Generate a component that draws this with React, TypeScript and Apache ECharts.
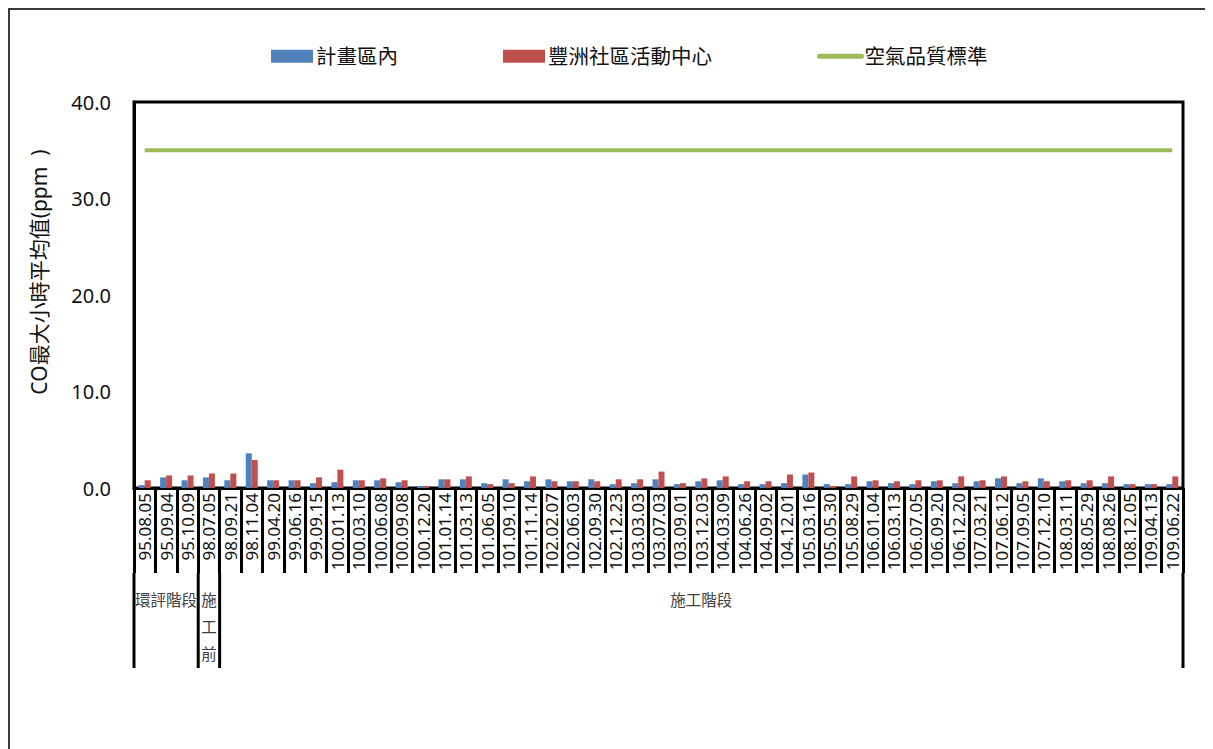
import React, { useEffect, useRef } from 'react';
import * as echarts from 'echarts';

const categories = [
  '95.08.05', '95.09.04', '95.10.09', '98.07.05', '98.09.21', '98.11.04', '99.04.20', '99.06.16', '99.09.15',
  '100.01.13', '100.03.10', '100.06.08', '100.09.08', '100.12.20',
  '101.01.14', '101.03.13', '101.06.05', '101.09.10', '101.11.14',
  '102.02.07', '102.06.03', '102.09.30', '102.12.23',
  '103.03.03', '103.07.03', '103.09.01', '103.12.03',
  '104.03.09', '104.06.26', '104.09.02', '104.12.01',
  '105.03.16', '105.05.30', '105.08.29',
  '106.01.04', '106.03.13', '106.07.05', '106.09.20', '106.12.20',
  '107.03.21', '107.06.12', '107.09.05', '107.12.10',
  '108.03.11', '108.05.29', '108.08.26', '108.12.05',
  '109.04.13', '109.06.22',
];

const planArea = [
  0.3, 1.1, 0.8, 1.1, 0.8, 3.6, 0.8, 0.8, 0.5,
  0.6, 0.8, 0.8, 0.6, 0.2,
  0.9, 0.9, 0.5, 0.9, 0.7,
  0.9, 0.7, 0.9, 0.4,
  0.5, 0.9, 0.4, 0.7,
  0.8, 0.4, 0.4, 0.5,
  1.4, 0.4, 0.4,
  0.7, 0.5, 0.4, 0.7, 0.5,
  0.7, 1.0, 0.5, 1.0,
  0.7, 0.5, 0.5, 0.4,
  0.4, 0.4,
];

const community = [
  0.8, 1.3, 1.3, 1.5, 1.5, 2.9, 0.8, 0.8, 1.1,
  1.9, 0.8, 1.0, 0.8, 0.2,
  0.9, 1.2, 0.4, 0.5, 1.2,
  0.7, 0.7, 0.7, 0.9,
  0.9, 1.7, 0.5, 1.0,
  1.2, 0.7, 0.7, 1.4,
  1.6, 0.2, 1.2,
  0.8, 0.7, 0.8, 0.8, 1.2,
  0.8, 1.2, 0.7, 0.7,
  0.8, 0.8, 1.2, 0.4,
  0.4, 1.2,
];

const standardValue = 35;

const seriesNames = ['計畫區內', '豐洲社區活動中心', '空氣品質標準'];
const groupNames = ['環評階段', '施工前', '施工階段'];
const groupCounts = [3, 1, 45];

const yMin = 0;
const yMax = 40;
const yInterval = 10;

const FONT = "'Noto Sans', 'Noto Sans CJK TC', sans-serif";

export default function App() {
  const ref = useRef<HTMLDivElement>(null);

  useEffect(() => {
    document.documentElement.style.overflow = 'hidden';
    if (!ref.current) return;
    const chart = echarts.init(ref.current, null, { renderer: 'svg' });
    const option: any = {
      animation: false,
      textStyle: { fontFamily: FONT },
      legend: {
        left: 256,
        top: 31,
        itemWidth: 42,
        itemHeight: 13,
        itemGap: 105,
        textStyle: { fontSize: 20.5, color: '#111', fontFamily: FONT, padding: [0, 0, 0, -2] },
        data: [
          { name: seriesNames[0], icon: 'rect' },
          { name: seriesNames[1], icon: 'rect' },
          {
            name: seriesNames[2],
            itemStyle: { opacity: 0 },
            lineStyle: { width: 5, color: '#9BBB59', cap: 'round' },
          },
        ],
      },
      grid: {
        left: 124,
        top: 92,
        width: 1049,
        height: 386,
        show: true,
        borderColor: '#000',
        borderWidth: 3,
        containLabel: false,
      },
      xAxis: {
        type: 'category',
        data: categories,
        boundaryGap: true,
        axisLine: { lineStyle: { color: '#000', width: 3 } },
        axisTick: { show: true, interval: 0, length: 85, lineStyle: { color: '#000', width: 3 } },
        axisLabel: {
          interval: 0,
          rotate: 90,
          margin: 5,
          fontSize: 17,
          color: '#111',
          fontFamily: FONT,
        },
      },
      yAxis: {
        type: 'value',
        min: yMin,
        max: yMax,
        interval: yInterval,
        name: 'CO最大小時平均值(ppm  )',
        nameLocation: 'middle',
        nameGap: 85,
        nameTextStyle: { fontSize: 21, color: '#111', fontFamily: FONT, padding: [0, 0, 0, 46] },
        axisLine: { show: true, lineStyle: { color: '#000', width: 3 } },
        axisTick: { show: false },
        splitLine: { show: false },
        axisLabel: {
          margin: 23,
          fontSize: 20,
          color: '#111',
          fontFamily: FONT,
          formatter: (v: number) => v.toFixed(1),
        },
      },
      series: [
        {
          name: seriesNames[0],
          type: 'bar',
          data: planArea,
          barWidth: 6,
          barGap: '0%',
          itemStyle: { color: '#4F81BD' },
        },
        {
          name: seriesNames[1],
          type: 'bar',
          data: community,
          barWidth: 6,
          barGap: '0%',
          itemStyle: { color: '#C0504D' },
        },
        {
          name: seriesNames[2],
          type: 'line',
          data: categories.map(() => standardValue),
          symbol: 'none',
          lineStyle: { color: '#9BBB59', width: 4 },
          itemStyle: { color: '#9BBB59' },
        },
      ],
    };
    chart.setOption(option);

    const x0 = chart.convertToPixel({ xAxisIndex: 0 }, 0) as number;
    const x1 = chart.convertToPixel({ xAxisIndex: 0 }, 1) as number;
    const bw = x1 - x0;
    const yBase = chart.convertToPixel({ yAxisIndex: 0 }, 0) as number;
    const tickLen = 85;
    const lineTop = yBase + tickLen;
    const lineBottom = yBase + 180;
    const elements: any[] = [];
    let start = 0;
    groupCounts.forEach((count, gi) => {
      const left = x0 - bw / 2 + start * bw;
      const right = left + count * bw;
      elements.push({
        type: 'line',
        shape: { x1: left, y1: lineTop, x2: left, y2: lineBottom },
        style: { stroke: '#000', lineWidth: 3 },
      });
      if (gi === groupCounts.length - 1) {
        elements.push({
          type: 'line',
          shape: { x1: right, y1: lineTop, x2: right, y2: lineBottom },
          style: { stroke: '#000', lineWidth: 3 },
        });
      }
      const cx = (left + right) / 2;
      const vertical = count === 1;
      elements.push({
        type: 'text',
        x: cx,
        y: vertical ? yBase + 98 : yBase + 112,
        style: {
          text: vertical ? groupNames[gi].split('').join('\n') : groupNames[gi],
          fontSize: 15.5,
          lineHeight: 27,
          fill: '#404040',
          fontFamily: FONT,
          align: 'center',
          verticalAlign: vertical ? 'top' : 'middle',
        },
      });
      start += count;
    });
    chart.setOption({ graphic: { elements } });

    return () => chart.dispose();
  }, []);

  return (
    <div
      style={{
        width: 1205,
        height: 741,
        borderLeft: '2px solid #3a3a3a',
        borderTop: '2px solid #3a3a3a',
        boxSizing: 'border-box',
      }}
    >
      <div ref={ref} style={{ width: 1203, height: 739 }} />
    </div>
  );
}
